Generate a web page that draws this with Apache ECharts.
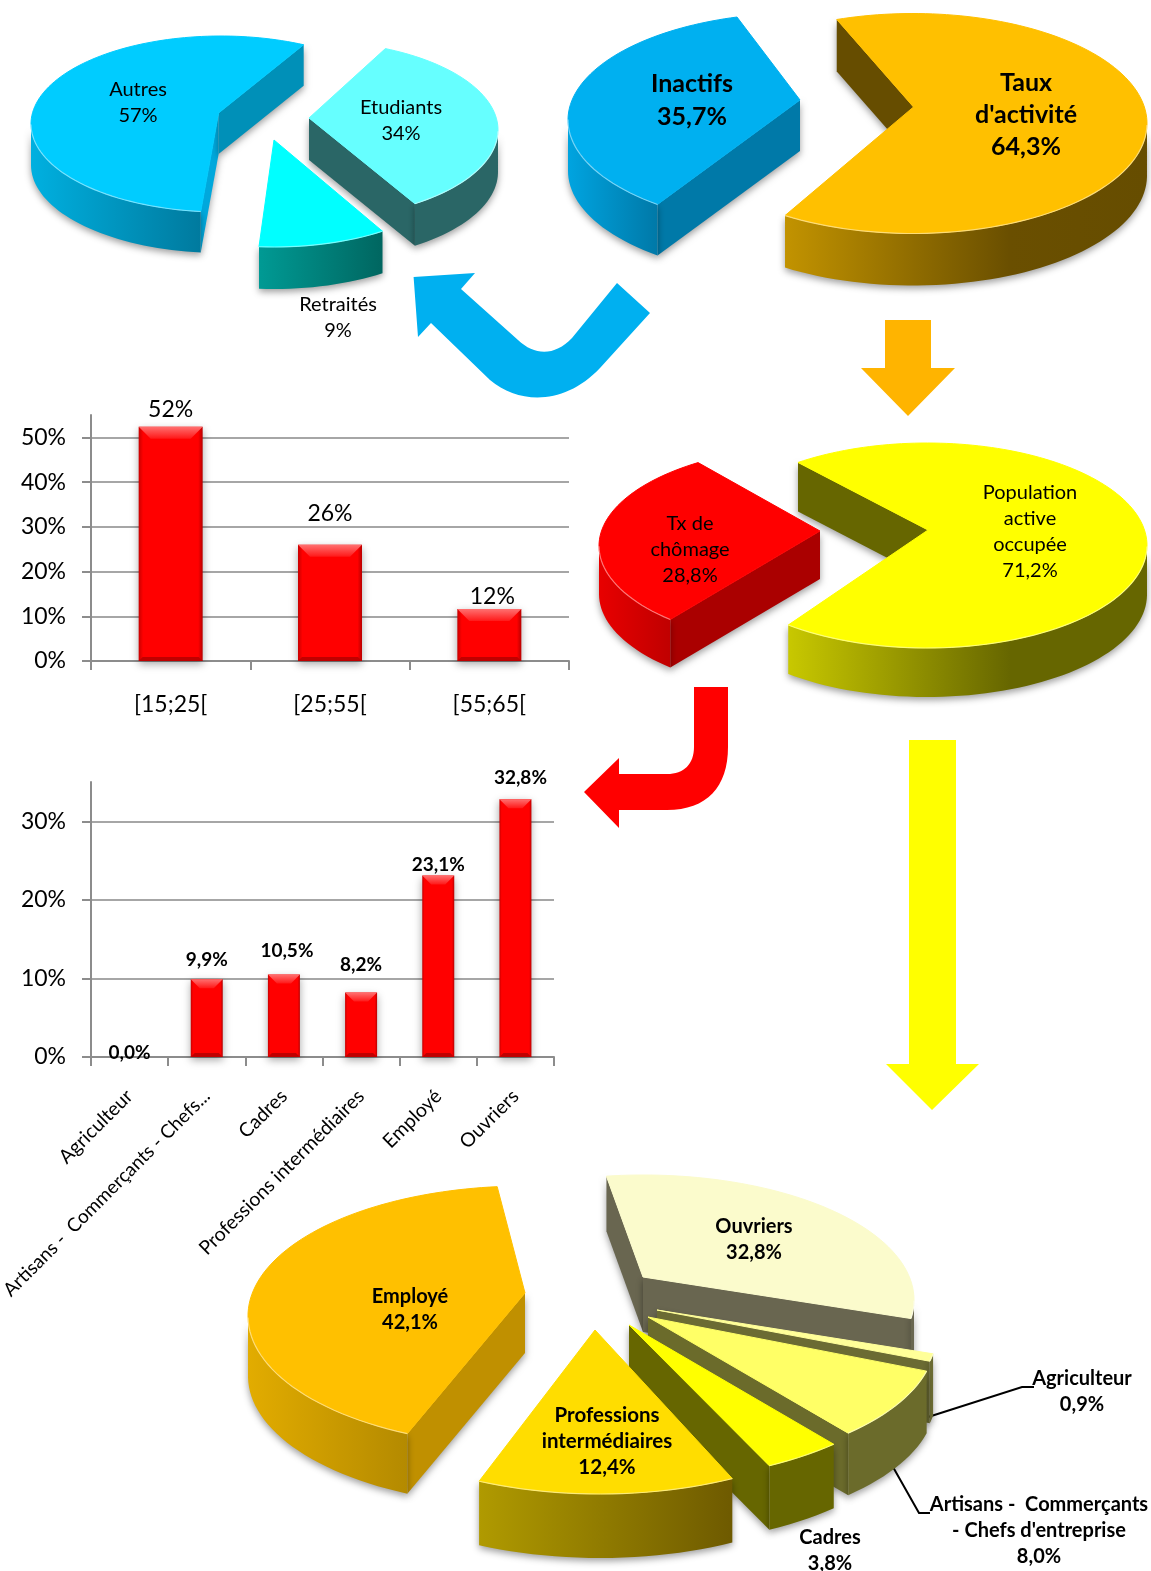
<!DOCTYPE html>
<html><head><meta charset="utf-8">
<style>html,body{margin:0;padding:0;background:#fff;overflow:hidden}#c{width:1151px;height:1571px}</style>
<script src="https://cdn.jsdelivr.net/npm/echarts@6/dist/echarts.min.js"></script>
</head><body><div id="c"></div>
<script>
// ---------- data ----------
const activiteNames = ['Taux\nd\'activité', 'Inactifs'];
const activiteValues = [64.3, 35.7];
const inactifsNames = ['Etudiants', 'Retraités', 'Autres'];
const inactifsValues = [34, 9, 57];
const emploiNames = ['Population\nactive\noccupée', 'Tx de\nchômage'];
const emploiValues = [71.2, 28.8];
const csNames = ['Ouvriers', 'Agriculteur', 'Artisans -  Commerçants\n- Chefs d\'entreprise', 'Cadres', 'Professions\nintermédiaires', 'Employé'];
const csValues = [32.8, 0.9, 8.0, 3.8, 12.4, 42.1];
const ageCategories = ['[15;25[', '[25;55[', '[55;65['];
const ageValues = [52.4, 26, 11.6];
const ageTicks = [0, 10, 20, 30, 40, 50];
const chomageCategories = ['Agriculteur', 'Artisans -  Commerçants - Chefs...', 'Cadres', 'Professions intermédiaires', 'Employé', 'Ouvriers'];
const chomageValues = [0.0, 9.9, 10.5, 8.2, 23.1, 32.8];
const chomageTicks = [0, 10, 20, 30];

// ---------- drawing geometry (not data) ----------
const FONT = 'Lato';
const grad = (a, b, c) => new echarts.graphic.LinearGradient(0, 0, 1, 0, c
  ? [{offset:0,color:a},{offset:.62,color:b},{offset:1,color:c}]
  : [{offset:0,color:a},{offset:1,color:b}]);

const geomActivite = [
 {a:[913.5,107],c:[913,123.5],r:[234,110],d:52,rot:-2.4,top:'#FFC000',cut:'#664D00',wall:['#C29300','#6A4F00','#664D00'],lx:1026,ly:115,fs:25,lh:32,b:true},
 {a:[800,100],c:[800,120],r:[232,107],d:51,rot:0.7,top:'#00B0F0',cut:'#0079A8',wall:['#00A4E0','#0079A8'],lx:692,ly:100,fs:25,lh:33,b:true}
];
const geomInactifs = [
 {a:[309,118],c:[309,130],r:[189,89],d:42,rot:-3,top:'#66FFFF',cut:'#2A6666',wall:['#2A6666','#2A6666'],lx:401,ly:121,fs:20,lh:26},
 {a:[274,140],c:[274,160],r:[189,87],d:42,rot:-1.5,top:'#00FFFF',cut:'#00A0A0',wall:['#009A94','#006660'],lx:338,ly:318,fs:20,lh:26},
 {a:[218.6,113],c:[221,124],r:[190,88],d:41,rot:-0.4,top:'#00CCFF',cut:'#0090B8',cut0:'#00A8DC',wall:['#00B0E0','#007A9E'],lx:138,ly:103,fs:20,lh:26}
];
const geomEmploi = [
 {a:[928,530],c:[927,545.5],r:[220,102.5],d:49,rot:0,top:'#FFFF00',cut:'#666600',wall:['#C8C800','#666600','#666600'],lx:1030,ly:532,fs:20,lh:26},
 {a:[820,531],c:[820,546],r:[221,100],d:48,rot:3,top:'#FF0000',cut:'#AA0000',wall:['#E80000','#C00000'],lx:690,ly:550,fs:20,lh:26}
];
const geomCS = [
 {a:[643,1277],c:[643,1300],r:[271,125],d:55,rot:-1,top:'#FBFBCC',cut:'#696650',wall:['#696650','#696650'],lx:754,ly:1240,fs:20,lh:26,b:true},
 {a:[657,1310],c:[657,1333],r:[280,125],d:62,rot:0,top:'#FFFF99',cut:'#6B6B33',wall:['#6B6B33','#6B6B33'],lx:1082,ly:1392,fs:20,lh:26,b:true},
 {a:[648,1317],c:[648,1340],r:[287,130],d:62,rot:0.4,top:'#FFFF66',cut:'#6B6B2B',wall:['#6B6B2B','#6B6B2B'],lx:1039,ly:1531,fs:20,lh:26,b:true},
 {a:[629,1325],c:[629,1345],r:[297,137],d:64,rot:0,top:'#FFFF00',cut:'#666600',wall:['#666600','#666600'],lx:830,ly:1551,fs:20,lh:26,b:true},
 {a:[595,1330],c:[600,1352],r:[292,142],d:64,rot:0.5,top:'#FFDD00',cut:'#6E5A00',wall:['#B09A00','#6E5A00'],lx:607,ly:1441,fs:20.5,lh:26,b:true},
 {a:[525,1293],c:[525,1316],r:[277,130],d:60,rot:1.5,top:'#FFC000',cut:'#C09000',wall:['#E2AC00','#B48A00'],lx:410,ly:1310,fs:20,lh:26,b:true}
];

function onEllipse(g, deg) {
  const t = deg * Math.PI / 180, dx = Math.cos(t), dy = Math.sin(t);
  const ax = (g.a[0]-g.c[0])/g.r[0], ay = (g.a[1]-g.c[1])/g.r[1];
  const k = ax*dx + ay*dy, s = -k + Math.sqrt(k*k + 1 - ax*ax - ay*ay);
  return [g.c[0] + (ax+s*dx)*g.r[0], g.c[1] + (ay+s*dy)*g.r[1]];
}
function pieSeries(names, values, startAngle, geom, decimals) {
  const total = values.reduce((p,v)=>p+v,0);
  const starts = []; let acc = startAngle;
  values.forEach(v=>{starts.push(acc); acc += v/total*360;});
  return {
    type:'custom', coordinateSystem:'none', silent:true, z:2,
    data: values.map(v=>[v]),
    renderItem(params, api) {
      const i = params.dataIndex, g = geom[i], val = api.value(0);
      const a0 = starts[i] + g.rot, a1 = a0 + val/total*360;
      const n = Math.max(4, Math.ceil((a1-a0)/2)), arc = [];
      for (let k=0;k<=n;k++) arc.push(onEllipse(g, a0+(a1-a0)*k/n));
      const kids = [], A = g.a, shadow = {shadowBlur:7, shadowColor:'rgba(0,0,0,.38)', shadowOffsetY:3};
      const poly = (pts, fill, extra) => kids.push({type:'polygon', shape:{points:pts}, style:Object.assign({fill, stroke:null}, extra||{})});
      const face = (P, inward, color) => {
        const Q = onEllipse(g, inward), ex=P[0]-A[0], ey=P[1]-A[1];
        const side = ex*(Q[1]-A[1]) - ey*(Q[0]-A[0]), down = ex;
        if (side*down < 0) poly([A,P,[P[0],P[1]+g.d],[A[0],A[1]+g.d]], color, shadow);
      };
      face(arc[0], a0+4, g.cut0||g.cut);
      face(arc[n], a1-4, g.cut);
      const vis = arc.filter(p=>p[1] >= g.c[1]-1);
      if (vis.length > 1) {
        const low = vis.map(p=>[p[0],p[1]+g.d]).reverse();
        poly(vis.concat(low), grad(g.wall[0], g.wall[1], g.wall[2]), shadow);
      }
      poly([A].concat(arc), g.top, {stroke:g.top, lineWidth:1, lineJoin:'round'});
      if (vis.length > 1) kids.push({type:'polyline', shape:{points:vis}, style:{stroke:'rgba(255,255,255,.45)', lineWidth:1.2, fill:null}});
      const pct = (decimals ? val.toFixed(decimals).replace('.',',') : String(Math.round(val))) + '%';
      kids.push({type:'text', z2:50, style:{x:g.lx, y:g.ly, text:names[i]+'\n'+pct, align:'center', verticalAlign:'middle',
        fontFamily:FONT, fontSize:g.fs, lineHeight:g.lh, fontWeight:g.b?'bold':'normal', fill:'#000'}});
      return {type:'group', children:kids};
    }
  };
}
const arrows = [
 {p:'M413.6,277 L475,273 L461,289 L518,340 C535,356 555,356 572,338 L617,283 L650,313 L600,368 C565,405 520,405 490,380 L431,323 L418,337 Z', c:'#00B0F0'},
 {p:'M885,320 L931,320 L931,368 L955,368 L908,416 L861,368 L885,368 Z', c:'#FFB400'},
 {p:'M728,687 L728,747 C728,787 707,810 667,810 L619,810 L619,828 L584,792 L619,758 L619,774 L667,774 C684,774 694,764 694,747 L694,687 Z', c:'#FF0000'},
 {p:'M909,740 L956,740 L956,1064 L979,1064 L932,1110 L886,1064 L909,1064 Z', c:'#FFFF00'}
];
const leaders = ['M925,1418 L1022,1387 L1034,1387', 'M893,1467 L919,1513 L930,1513'];
const arrowSeries = {
  type:'custom', coordinateSystem:'none', silent:true, z:1, data:[[0]],
  renderItem() {
    return {type:'group', children: arrows.map(a=>({type:'path', shape:{pathData:a.p}, style:{fill:a.c, stroke:null}}))
      .concat(leaders.map(l=>({type:'path', z2:40, shape:{pathData:l}, style:{fill:null, stroke:'#000', lineWidth:2}})))};
  }
};

const barColor = new echarts.graphic.LinearGradient(0,0,1,0,[
  {offset:0,color:'#C80000'},{offset:.07,color:'#FF0000'},{offset:.93,color:'#FF0000'},{offset:1,color:'#B80000'}]);
function bevelSeries(values, xi, yi, w, bev) {
  return {
    type:'custom', xAxisIndex:xi, yAxisIndex:yi, silent:true, z:4,
    encode:{x:0,y:1}, data: values.map((v,i)=>[i,v]),
    renderItem(params, api) {
      const v = api.value(1); if (!v) return null;
      const top = api.coord([api.value(0), v]), base = api.coord([api.value(0), 0]);
      const x0 = top[0]-w/2, x1 = top[0]+w/2, y = top[1], b = base[1];
      return {type:'group', children:[
        {type:'polygon', shape:{points:[[x0,y],[x1,y],[x1-bev,y+bev],[x0+bev,y+bev]]},
         style:{fill:new echarts.graphic.LinearGradient(0,0,0,1,[{offset:0,color:'#FF7070'},{offset:1,color:'#FF1818'}])}},
        {type:'polygon', shape:{points:[[x0,b],[x1,b],[x1-4,b-4],[x0+4,b-4]]}, style:{fill:'#C00000'}}
      ]};
    }
  };
}
const tickStyle = {show:true, length:9, lineStyle:{color:'#8C8C8C', width:2}};
const lineStyle = {show:true, onZero:false, lineStyle:{color:'#8C8C8C', width:2}};
const splitStyle = {show:true, lineStyle:{color:'#A6A6A6', width:2}};
const valAxis = (gi, max, ticks) => ({type:'value', gridIndex:gi, min:0, max, interval:10,
  axisLine:lineStyle, axisTick:Object.assign({customValues:ticks}, tickStyle), splitLine:splitStyle,
  axisLabel:{customValues:ticks, formatter:v=>v+'%', color:'#000', fontFamily:FONT, fontSize:23, margin:25}});

const ageLabelStyle = [{distance:6},{distance:20},{distance:1,offset:[3,0]}];
const chomageLabelStyle = [{distance:-5},{distance:10},{distance:14,offset:[3,0]},{distance:18},{distance:1},{distance:12,offset:[5,0]}];
const option = {
  backgroundColor:'#fff', animation:false,
  grid:[{left:91, top:415, width:478, height:246, outerBoundsMode:'none'},{left:91, top:782, width:463, height:275, outerBoundsMode:'none'}],
  xAxis:[
   {type:'category', gridIndex:0, data:ageCategories, axisLine:lineStyle, axisTick:tickStyle,
    axisLabel:{color:'#000', fontFamily:FONT, fontSize:23, margin:32, interval:0}},
   {type:'category', gridIndex:1, axisLine:lineStyle, axisTick:tickStyle,
    data:chomageCategories.map((c,i)=> i===1 ? {value:c, textStyle:{fontSize:19}} : c),
    axisLabel:{color:'#000', fontFamily:FONT, fontSize:19.5, rotate:45, margin:36, interval:0}}
  ],
  yAxis:[valAxis(0,55,ageTicks), valAxis(1,35,chomageTicks)],
  series:[
    arrowSeries,
    pieSeries(inactifsNames, inactifsValues, -59.6, geomInactifs, 0),
    pieSeries(activiteNames, activiteValues, -110, geomActivite, 1),
    pieSeries(emploiNames, emploiValues, -131.9, geomEmploi, 1),
    pieSeries(csNames, csValues, -98.5, geomCS, 1),
    {type:'bar', xAxisIndex:0, yAxisIndex:0, barWidth:64, z:3, clip:false,
     data:ageValues.map((v,i)=>({value:v, label:ageLabelStyle[i]})),
     itemStyle:{color:barColor, shadowBlur:8, shadowColor:'rgba(0,0,0,.35)', shadowOffsetY:3},
     label:{show:true, position:'top', color:'#000', fontFamily:FONT, fontSize:23, formatter:p=>Math.round(p.value)+'%'}},
    bevelSeries(ageValues,0,0,64,12),
    {type:'bar', xAxisIndex:1, yAxisIndex:1, barWidth:32, z:3, clip:false,
     data:chomageValues.map((v,i)=>({value:v, label:chomageLabelStyle[i]})),
     itemStyle:{color:barColor, shadowBlur:8, shadowColor:'rgba(0,0,0,.35)', shadowOffsetY:3},
     label:{show:true, position:'top', color:'#000', fontFamily:FONT, fontSize:19, fontWeight:'bold', formatter:p=>p.value.toFixed(1).replace('.',',')+'%'}},
    bevelSeries(chomageValues,1,1,32,9)
  ]
};
const chart = echarts.init(document.getElementById('c'), null, {renderer:'canvas', width:1151, height:1571});
chart.setOption(option);
</script></body></html>
